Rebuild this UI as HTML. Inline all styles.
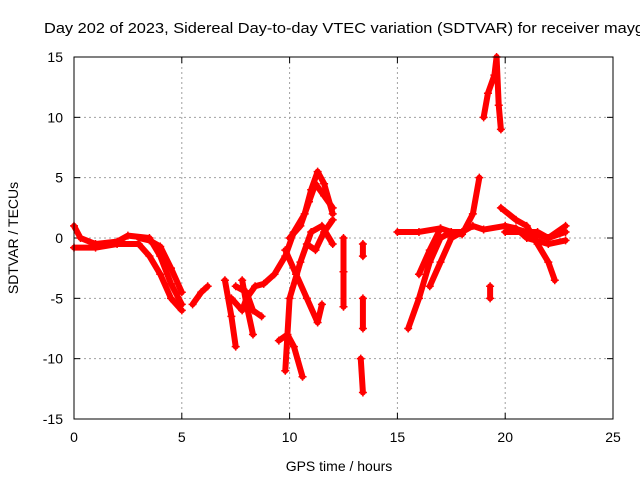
<!DOCTYPE html>
<html><head><meta charset="utf-8"><style>
body{margin:0;background:#fff;width:640px;height:480px;overflow:hidden}
svg{display:block;font-family:"Liberation Sans",sans-serif}
</style></head><body>
<svg id="c" width="640" height="480">
<text x="44" y="33" font-size="15" textLength="600" lengthAdjust="spacingAndGlyphs">Day 202 of 2023, Sidereal Day-to-day VTEC variation (SDTVAR) for receiver mayg</text>
<g id="grid"></g>
<g id="ticks"></g>
<g id="marks"></g>
<rect x="74" y="57" width="539" height="362" fill="none" stroke="#000" stroke-width="1"/>
<text x="339" y="471" font-size="14" text-anchor="middle">GPS time / hours</text>
<text transform="translate(18,238) rotate(-90)" font-size="14" text-anchor="middle">SDTVAR / TECUs</text>
</svg>
<script>
const xTicks=[0,5,10,15,20,25];
const yTicks=[-15,-10,-5,0,5,10,15];
const trackA=[[0,1],[0.3,0],[1,-0.5],[2,-0.3],[2.5,0.2],[3.5,0],[4,-1.5],[4.5,-3.8],[5,-5.5]];
const trackB=[[0,-0.8],[1,-0.8],[2,-0.5],[3,-0.5],[3.5,-1.5],[4,-3],[4.5,-5],[5,-6]];
const trackC=[[3,0],[3.5,-0.2],[4,-0.7],[4.5,-2.5],[5,-4.5]];
const trackD=[[5.5,-5.5],[5.9,-4.5],[6.2,-4]];
const trackE=[[7,-3.5],[7.3,-6.5],[7.5,-9]];
const trackF=[[7.3,-5],[7.8,-6],[8,-5],[8.4,-4],[8.8,-3.8],[9.3,-3],[9.8,-1.5],[10.2,0.5],[10.7,2],[11,4],[11.3,5.5],[11.6,4.5],[12,2]];
const trackG=[[7.5,-4],[8,-4.5],[8.3,-6],[8.7,-6.5]];
const trackH=[[7.8,-3.5],[8,-5.5],[8.3,-8]];
const trackI=[[9.5,-8.5],[9.9,-8],[10.2,-9],[10.6,-11.5]];
const trackJ=[[9.8,-11],[10,-5],[10.5,-2],[11,0.5],[11.5,1],[12,-0.5]];
const trackK=[[9.8,-1],[10.3,-3],[10.8,-5],[11.3,-7],[11.5,-5.5]];
const trackL=[[10,0],[10.5,1],[10.9,3],[11.2,4.5],[11.6,3.5],[12,2.5]];
const trackM=[[10.8,-0.5],[11.2,-1],[11.6,0.5],[12,1.5]];
const trackN=[[12.5,0],[12.5,-2.8],[12.5,-5.7]];
const trackO=[[13.3,-10],[13.4,-12.8]];
const trackP=[[13.4,-5],[13.4,-7.5]];
const trackQ=[[13.4,-0.5],[13.4,-1.5]];
const trackR=[[15,0.5],[16,0.5],[17,0.8],[17.5,0.5],[18,0.5],[18.5,1],[19,0.7],[20,1],[21,0.5],[22,0],[22.8,0.5]];
const trackS=[[15.5,-7.5],[16,-5],[16.5,-2],[17,0],[17.5,0.5],[18,0.3],[18.5,2],[18.8,5]];
const trackT=[[16.5,-4],[17,-2],[17.5,0],[18,0.5]];
const trackU=[[16,-3],[16.5,-1],[17,0.8]];
const trackV=[[19,10],[19.2,12],[19.5,13.5],[19.6,15],[19.7,11],[19.8,9]];
const trackW=[[19.3,-4],[19.3,-5]];
const trackX=[[19.8,2.5],[20.5,1.5],[21,1],[21.5,-0.5],[22,-2],[22.3,-3.5]];
const trackY=[[20,1],[20.5,0.8],[21,0],[22,-0.5],[22.8,-0.2]];
const trackZ=[[20,0.5],[21.5,0.5],[22,0],[22.8,1]];
const tracks=[trackA,trackB,trackC,trackD,trackE,trackF,trackG,trackH,trackI,trackJ,trackK,trackL,trackM,trackN,trackO,trackP,trackQ,trackR,trackS,trackT,trackU,trackV,trackW,trackX,trackY,trackZ];
const NS="http://www.w3.org/2000/svg";
const X=v=>74+v*539/25, Y=v=>419-(v+15)*362/30;
const grid=document.getElementById('grid'),ticks=document.getElementById('ticks'),marks=document.getElementById('marks');
function mk(tag,at,p){const e=document.createElementNS(NS,tag);for(const k in at)e.setAttribute(k,at[k]);p.appendChild(e);return e;}
xTicks.forEach(t=>{const x=X(t);
 if(t>0&&t<25){const g=mk('line',{x1:x,x2:x,y1:57,y2:419,stroke:'#a0a0a0','stroke-dasharray':'2,3'},grid);
 
 }
 mk('line',{x1:x,x2:x,y1:419,y2:413,stroke:'#000'},ticks);mk('line',{x1:x,x2:x,y1:57,y2:63,stroke:'#000'},ticks);
 const l=mk('text',{x:x,y:442,'font-size':14,'text-anchor':'middle'},ticks);l.textContent=t;
 
 });
yTicks.forEach(t=>{const y=Y(t);
 if(t>-15&&t<15){const g=mk('line',{x1:74,x2:613,y1:y,y2:y,stroke:'#a0a0a0','stroke-dasharray':'2,3'},grid);
 
 }
 mk('line',{x1:74,x2:80,y1:y,y2:y,stroke:'#000'},ticks);mk('line',{x1:613,x2:607,y1:y,y2:y,stroke:'#000'},ticks);
 const l=mk('text',{x:63,y:y+5,'font-size':14,'text-anchor':'end'},ticks);l.textContent=t;
 
 });
tracks.forEach(tr=>{
 const pl=mk('polyline',{points:tr.map(p=>X(p[0])+','+Y(p[1])).join(' '),fill:'none',stroke:'#f00','stroke-width':6,'stroke-linejoin':'round','stroke-linecap':'round'},marks);
 
 
 tr.forEach(p=>{const x=X(p[0]),y=Y(p[1]);
  const m=mk('path',{d:`M${x-4},${y}h8M${x},${y-4}v8`,stroke:'#f00','stroke-width':1.5},marks);
  
  });
});
</script>
</body></html>
